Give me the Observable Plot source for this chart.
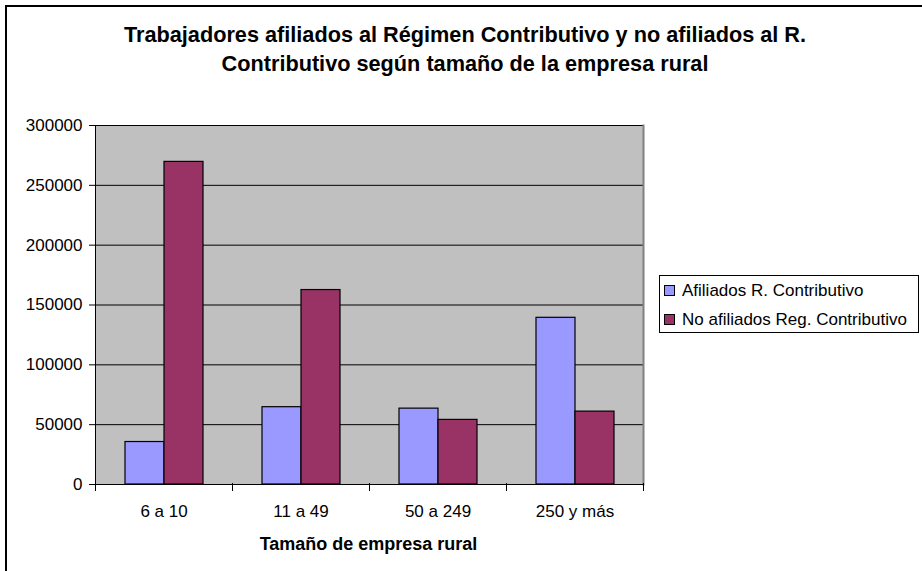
<!DOCTYPE html>
<html>
<head>
<meta charset="utf-8">
<script src="https://cdn.jsdelivr.net/npm/d3@7"></script>
<script src="https://cdn.jsdelivr.net/npm/@observablehq/plot@0.6"></script>
<style>
  html, body { margin: 0; padding: 0; background: #fff; }
  #wrap { position: relative; width: 922px; height: 571px; overflow: hidden; font-family: "Liberation Sans", Arial, sans-serif; }
  #border { position: absolute; left: 5px; top: 5px; width: 1000px; height: 1000px; border-left: 2px solid #000; border-top: 2px solid #000; box-sizing: border-box; }
  #title { position: absolute; left: 0; top: 20px; width: 930px; text-align: center; font-weight: bold; font-size: 21.7px; line-height: 29px; color: #000; }
  #xtitle { position: absolute; left: 0; top: 534px; width: 737px; text-align: center; font-weight: bold; font-size: 18px; line-height: 20px; color: #000; }
  #legend { position: absolute; left: 659px; top: 275px; width: 260px; height: 58px; border: 1px solid #000; box-sizing: border-box; background: #fff; }
  .item { position: absolute; left: 4px; height: 20px; line-height: 20px; font-size: 17px; white-space: nowrap; color: #000; }
  .sw { display: inline-block; width: 9px; height: 9px; border: 1px solid #000; margin-right: 7px; vertical-align: 0px; }
  #chart { position: absolute; left: 0; top: 0; }
</style>
</head>
<body>
<div id="wrap">
  <div id="chart"></div>
  <div id="border"></div>
  <div id="title">Trabajadores afiliados al Régimen Contributivo y no afiliados al R.<br>Contributivo según tamaño de la empresa rural</div>
  <div id="xtitle">Tamaño de empresa rural</div>
  <div id="legend"></div>
</div>
<script>
const categories = ["6 a 10", "11 a 49", "50 a 249", "250 y más"];
const seriesNames = ["Afiliados R. Contributivo", "No afiliados Reg. Contributivo"];
const afiliados = [35500, 64600, 63400, 139300];
const noAfiliados = [269600, 162500, 54000, 60900];
const yTicks = [0, 50000, 100000, 150000, 200000, 250000, 300000];
const seriesColors = ["#9999FF", "#993366"];

const rows = categories.flatMap((c, i) => [
  {cat: c, serie: seriesNames[0], value: afiliados[i]},
  {cat: c, serie: seriesNames[1], value: noAfiliados[i]}
]);

const chart = Plot.plot({
  width: 922,
  height: 571,
  marginLeft: 94,
  marginRight: 279,
  marginTop: 125,
  marginBottom: 87,
  style: {fontFamily: "'Liberation Sans', Arial, sans-serif", fontSize: "17px", color: "#000", background: "transparent"},
  facet: {data: rows, x: "cat"},
  fx: {domain: categories, padding: 0, label: null, axis: "bottom", tickSize: 0, tickPadding: 20},
  x: {domain: seriesNames, paddingInner: 0, paddingOuter: 0.75, axis: null},
  y: {domain: [0, 300000], ticks: yTicks, tickFormat: d3.format("d"), label: null, tickSize: 6, tickPadding: 7},
  color: {domain: seriesNames, range: seriesColors},
  marks: [
    Plot.frame({fill: "#c0c0c0", stroke: null, facet: "super"}),
    Plot.gridY(yTicks, {stroke: "#000", strokeOpacity: 1, strokeWidth: 1}),
    Plot.frame({anchor: "right", stroke: "#808080", strokeWidth: 2, facet: "super"}),
    Plot.barY(rows, {x: "serie", y: "value", fill: "serie", stroke: "#000", strokeWidth: 1.2}),
    Plot.ruleY([0], {stroke: "#000", strokeWidth: 1}),
    Plot.frame({anchor: "left", stroke: "#000", strokeWidth: 1, insetTop: 358, insetBottom: -6}),
    Plot.frame({anchor: "right", stroke: "#000", strokeWidth: 1, insetTop: 358, insetBottom: -6, facet: "super"}),
    Plot.frame({anchor: "left", stroke: "#000", strokeWidth: 1, facet: "super"})
  ]
});
document.getElementById("chart").appendChild(chart);

const legend = document.getElementById("legend");
seriesNames.forEach((name, i) => {
  const item = document.createElement("div");
  item.className = "item";
  item.style.top = (i === 0 ? 5 : 34) + "px";
  const sw = document.createElement("span");
  sw.className = "sw";
  sw.style.background = seriesColors[i];
  item.appendChild(sw);
  item.appendChild(document.createTextNode(name));
  legend.appendChild(item);
});
</script>
</body>
</html>
